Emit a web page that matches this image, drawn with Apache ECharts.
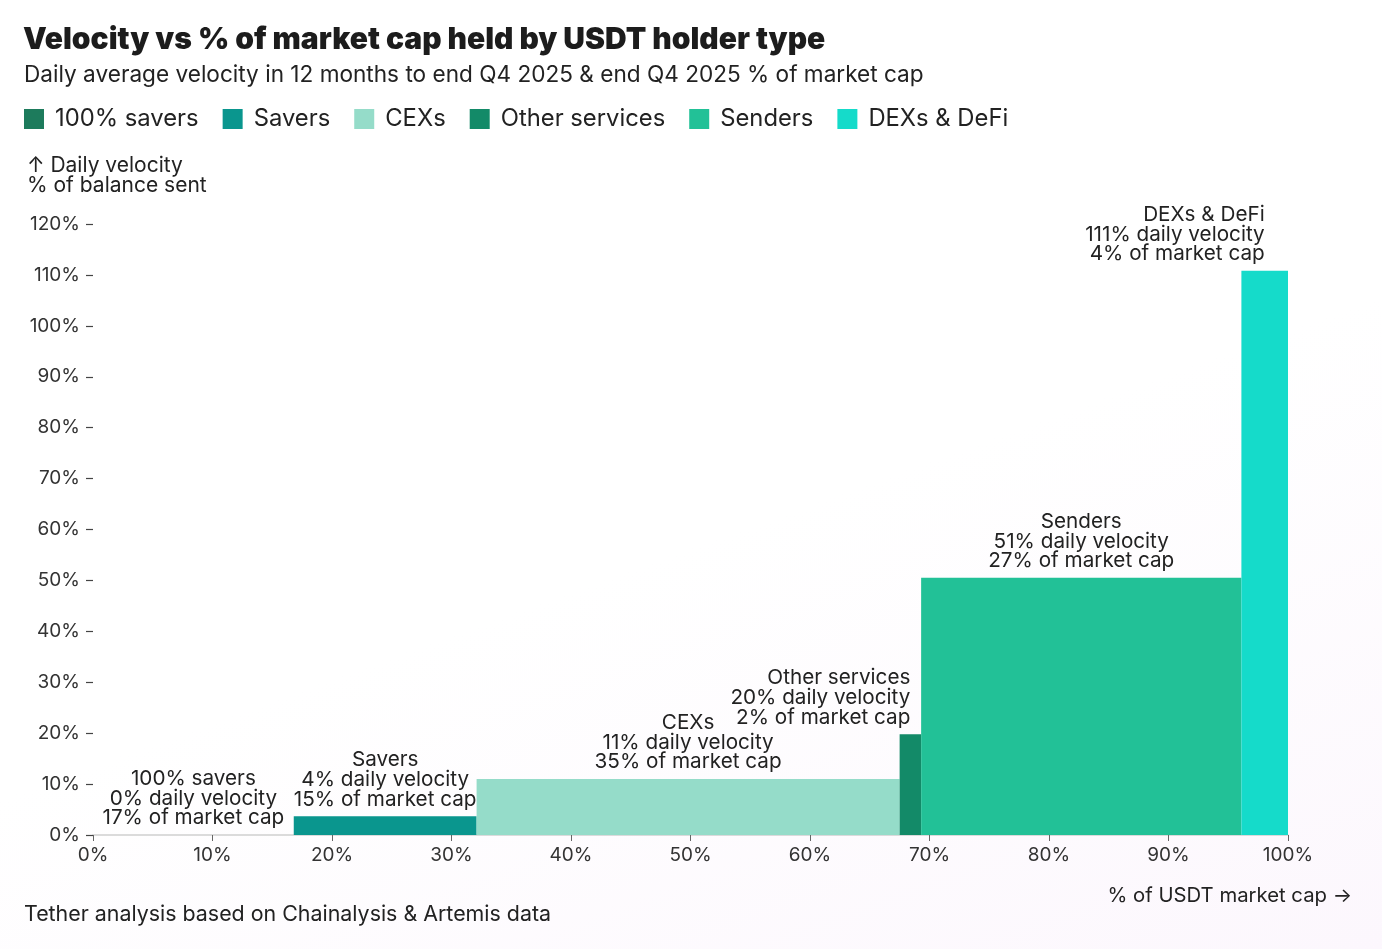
<!DOCTYPE html>
<html>
<head>
<meta charset="utf-8">
<title>Velocity vs % of market cap held by USDT holder type</title>
<script src="https://cdn.jsdelivr.net/npm/echarts@6/dist/echarts.min.js"></script>
<style>
  html, body { margin: 0; padding: 0; }
  body { background: linear-gradient(160deg, #ffffff 55%, #fcf7fd 100%); }
  #chart { width: 1382px; height: 949px; }
</style>
</head>
<body>
<div id="chart"></div>
<script>
// holder types, left to right
var categories = ['100% savers', 'Savers', 'CEXs', 'Other services', 'Senders', 'DEXs & DeFi'];
// bar widths: share of USDT market cap (%)
var capShare = [16.8, 15.3, 35.4, 1.8, 26.8, 3.9];
// bar heights: daily velocity (% of balance sent)
var velocity = [0, 3.7, 11, 19.8, 50.5, 110.8];
// rounded figures printed in the annotations
var capLabel = [17, 15, 35, 2, 27, 4];
var velocityLabel = [0, 4, 11, 20, 51, 111];
var colors = ['#1d7b5c', '#0a968e', '#95dcc9', '#138a68', '#22c197', '#15dbca'];

var chart = echarts.init(document.getElementById('chart'));
var font = 'Inter, "Noto Sans", sans-serif';
var ink = '#222222';

// cumulative start/end of each bar on the x axis
var starts = [];
var acc = 0;
capShare.forEach(function (w) { starts.push(acc); acc += w; });

function renderBar(params, api) {
    var x0 = api.value(0), x1 = api.value(1), v = api.value(2);
    var idx = api.value(3);
    var p0 = api.coord([x0, 0]);
    var p1 = api.coord([x1, v]);
    var w = p1[0] - p0[0];
    var narrow = w < 60;
    var cx = (p0[0] + p1[0]) / 2;
    return {
        type: 'group',
        children: [{
            type: 'rect',
            shape: { x: p0[0], y: p1[1], width: w, height: p0[1] - p1[1] },
            style: { fill: api.visual('color') }
        }, {
            type: 'text',
            style: {
                text: categories[idx] + '\n' + velocityLabel[idx] + '% daily velocity\n' + capLabel[idx] + '% of market cap',
                x: cx,
                y: p1[1] - 7,
                align: narrow ? 'right' : 'center',
                verticalAlign: 'bottom',
                fontFamily: font,
                fontSize: 20.7,
                lineHeight: 19.6,
                fill: ink
            }
        }]
    };
}

var series = categories.map(function (name, i) {
    return {
        name: name,
        type: 'custom',
        renderItem: renderBar,
        itemStyle: { color: colors[i] },
        encode: { x: [0, 1], y: 2 },
        data: [[starts[i], starts[i] + capShare[i], velocity[i], i]]
    };
});

var option = {
    animation: false,
    textStyle: { fontFamily: font },
    title: [{
        text: 'Velocity vs % of market cap held by USDT holder type',
        left: 18, top: 20,
        textStyle: { fontSize: 30, fontWeight: 900, color: '#1c1c1c', fontFamily: font }
    }, {
        text: 'Daily average velocity in 12 months to end Q4 2025 & end Q4 2025 % of market cap',
        left: 19, top: 59,
        textStyle: { fontSize: 22.6, fontWeight: 'normal', color: ink, fontFamily: font }
    }, {
        text: '↑ Daily velocity\n% of balance sent',
        left: 22, top: 151,
        textStyle: { fontSize: 21, fontWeight: 'normal', lineHeight: 19.6, color: ink, fontFamily: font }
    }, {
        text: '% of USDT market cap →',
        right: 25, top: 881,
        textStyle: { fontSize: 20.3, fontWeight: 'normal', color: ink, fontFamily: font }
    }, {
        text: 'Tether analysis based on Chainalysis & Artemis data',
        left: 19, top: 899,
        textStyle: { fontSize: 21.4, fontWeight: 'normal', color: ink, fontFamily: font }
    }],
    legend: {
        data: categories,
        left: 19, top: 102,
        icon: 'rect',
        itemWidth: 20, itemHeight: 20,
        itemGap: 24,
        selectedMode: false,
        textStyle: { fontSize: 23.8, color: ink, padding: [0, 0, 0, 6], fontFamily: font }
    },
    grid: { left: 93, right: 94, top: 224, bottom: 114, containLabel: false },
    xAxis: {
        type: 'value',
        min: 0, max: 100, interval: 10,
        axisLine: { show: true, lineStyle: { color: '#cfcfcf', width: 1.5 } },
        axisTick: { show: true, length: 6, lineStyle: { color: '#666' } },
        splitLine: { show: false },
        axisLabel: { formatter: '{value}%', fontSize: 19, color: '#333', margin: 11, fontFamily: font }
    },
    yAxis: {
        type: 'value',
        min: 0, max: 120, interval: 10,
        axisLine: { show: false },
        axisTick: { show: true, length: 7, lineStyle: { color: '#444', width: 1.2 } },
        splitLine: { show: false },
        axisLabel: { formatter: '{value}%', fontSize: 19, color: '#333', margin: 13, fontFamily: font }
    },
    series: series
};

chart.setOption(option);
</script>
</body>
</html>
